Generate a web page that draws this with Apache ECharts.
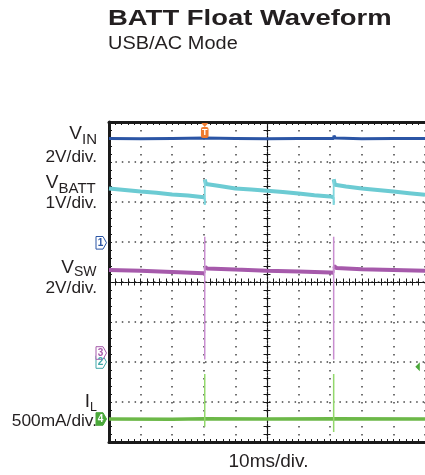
<!DOCTYPE html>
<html><head><meta charset="utf-8">
<script src="https://cdn.jsdelivr.net/npm/echarts@6/dist/echarts.min.js"></script>
<style>html,body{margin:0;padding:0;background:#fff}#c{width:425px;height:475px}</style>
</head><body><div id="c"></div>
<script>
// Time in ms relative to screen centre; values in screen divisions (0 = centre line)
const vinTime  = [-50, -40, -30, -19.7, -10, 0, 10, 21.1, 21.2, 21.6, 30, 40, 50];
const vinVals  = [3.59, 3.58, 3.59, 3.60, 3.59, 3.58, 3.59, 3.59, 3.66, 3.60, 3.58, 3.59, 3.59];

const vbattTime = [-50, -45, -40, -35, -30, -25, -20, -19.7, -19.7, -19.7, -19.3, -15, -10, -5, 0, 5, 10, 15, 20, 21.1, 21.1, 21.1, 21.5, 25, 30, 35, 40, 45, 50];
const vbattVals = [2.34, 2.30, 2.26, 2.23, 2.19, 2.16, 2.12, 2.11, 1.93, 2.56, 2.45, 2.40, 2.34, 2.31, 2.28, 2.25, 2.21, 2.17, 2.14, 2.12, 1.93, 2.57, 2.43, 2.39, 2.34, 2.30, 2.26, 2.22, 2.18];

const vswTime = [-50, -40, -30, -20, -19.7, -19.7, -19.5, -19, -10, 0, 10, 20, 21.1, 21.1, 21.4, 22, 30, 40, 50];
const vswVals = [0.30, 0.28, 0.25, 0.22, 0.22, 0.38, 0.37, 0.34, 0.31, 0.28, 0.26, 0.24, 0.23, 0.40, 0.37, 0.35, 0.32, 0.30, 0.28];

const ilTime = [-50, -30, -19.7, 0, 21.1, 50];
const ilVals = [-3.425, -3.43, -3.42, -3.425, -3.42, -3.425];

const spikeTime      = [-19.7, 21.1];
const vswSpikeTop    = [1.13, 1.13];
const vswSpikeBottom = [-1.94, -1.94];
const ilSpikeTop     = [-2.30, -2.30];
const ilSpikeBottom  = [-3.62, -3.75];

const markerLabels = ['1', '2', '3', '4'];
const markerLevels = [0.98, -2.0, -1.775, -3.425];
const triggerTime = -19.7;
const triggerLevel = -2.12;

const titleText = 'BATT Float Waveform';
const subtitleText = 'USB/AC Mode';
const timebaseText = '10ms/div.';

const C = { vin: '#2b55a5', vbatt: '#6ccbd3', vbattJump: '#7fd6dd', vsw: '#a65aab', vswJump: '#b878bd', il: '#6cb848',
            vswSpike: '#c98ed0', ilSpike: '#93d86c', ch2: '#3fa7a8', ch4: '#4aa83a', trig: '#ef7b2f', ink: '#231f20' };

const zip = (t, v) => t.map((x, i) => [x, v[i]]);
// split a trace into flat/decaying pieces and its vertical jumps (equal successive times)
function split(t, v) {
  const segs = [[]], jumps = [];
  t.forEach((x, i) => {
    if (i > 0 && x === t[i - 1]) { jumps.push([[t[i - 1], v[i - 1]], [x, v[i]]]); segs.push([]); }
    segs[segs.length - 1].push([x, v[i]]);
  });
  return { segs: segs.filter(s => s.length > 1), jumps };
}
const FONT = "'Liberation Sans', Arial, sans-serif";

const chart = echarts.init(document.getElementById('c'), null, { renderer: 'canvas' });

const frameLine = { color: '#1a1a1a', width: 3 };
const tickStyle = { color: '#1a1a1a', width: 1 };
function frameX(pos, split) {
  return { type: 'value', min: -50, max: 50, interval: 10, position: pos,
    axisLine: { show: true, onZero: false, lineStyle: frameLine },
    axisTick: { show: true, inside: true, length: 3, lineStyle: tickStyle },
    minorTick: { show: true, splitNumber: 5, length: 3, lineStyle: tickStyle },
    axisLabel: { show: false },
    splitLine: { show: split, lineStyle: { color: '#444', width: 1.5, type: [1.5, 6.5] } } };
}
function centreX(inside, line) {
  return { type: 'value', min: -50, max: 50, interval: 10, position: 'bottom',
    axisLine: { show: true, onZero: true, onZeroAxisIndex: 0,
      lineStyle: line ? { color: '#111', width: 1.2, type: [2.2, 1] } : { color: 'rgba(0,0,0,0)', width: 1 } },
    axisTick: { show: true, inside: inside, length: 3.5, lineStyle: tickStyle },
    minorTick: { show: true, splitNumber: 5, length: 3.5, lineStyle: tickStyle },
    axisLabel: { show: false }, splitLine: { show: false } };
}
function frameY(split) {
  return { type: 'value', min: -4, max: 4, interval: 1, position: 'left',
    axisLine: { show: true, onZero: false, lineStyle: frameLine },
    axisTick: { show: true, inside: true, length: 3, lineStyle: tickStyle },
    minorTick: { show: true, splitNumber: 5, length: 3, lineStyle: tickStyle },
    axisLabel: { show: false },
    splitLine: { show: split, lineStyle: { color: '#444', width: 1.5, type: [1.5, 4.9] } } };
}
function centreY(inside, line) {
  return { type: 'value', min: -4, max: 4, interval: 1, position: 'left',
    axisLine: { show: true, onZero: true, onZeroAxisIndex: 0,
      lineStyle: line ? { color: '#111', width: 1.2, type: [2.2, 1] } : { color: 'rgba(0,0,0,0)', width: 1 } },
    axisTick: { show: true, inside: inside, length: 3.5, lineStyle: tickStyle },
    minorTick: { show: true, splitNumber: 5, length: 3.5, lineStyle: tickStyle },
    axisLabel: { show: false }, splitLine: { show: false } };
}

function trace(name, data, color, width) {
  return { name, type: 'line', xAxisIndex: 0, yAxisIndex: 0, data, showSymbol: false, symbol: 'none',
    lineStyle: { color, width }, animation: false, z: 3 };
}
const series = [trace('VIN', zip(vinTime, vinVals), C.vin, 3)];
const vb = split(vbattTime, vbattVals);
vb.segs.forEach((s, i) => series.push(trace('VBATT ' + i, s, C.vbatt, 4)));
vb.jumps.forEach((s, i) => series.push(trace('VBATT jump ' + i, s, C.vbattJump, 1.8)));
const vs = split(vswTime, vswVals);
vs.segs.forEach((s, i) => series.push(trace('VSW ' + i, s, C.vsw, 4)));
vs.jumps.forEach((s, i) => series.push(trace('VSW jump ' + i, s, C.vswJump, 1.8)));
series.push(trace('IL', zip(ilTime, ilVals), C.il, 3.5));
spikeTime.forEach((t, i) => {
  series.push(trace('VSW spike ' + i, [[t, vswSpikeTop[i]], [t, vswSpikeBottom[i]]], C.vswSpike, 1.5));
  series.push(trace('IL spike ' + i, [[t, ilSpikeTop[i]], [t, ilSpikeBottom[i]]], C.ilSpike, 1.5));
});

chart.setOption({
  animation: false,
  backgroundColor: '#fff',
  grid: { left: 109, top: 122, width: 320, height: 320, containLabel: false },
  xAxis: [frameX('bottom', true), frameX('top', false), centreX(true, true), centreX(false, false)],
  yAxis: [frameY(true), centreY(true, true), centreY(false, false)],
  series
});

function text(t, x, y, size, align, opts) {
  return Object.assign({ type: 'text', x, y, z: 10, style: { text: t, x: 0, y: 0, fontSize: size, fontFamily: FONT,
    fill: C.ink, align, textAlign: align, verticalAlign: 'middle', textVerticalAlign: 'middle',
    fontWeight: (opts && opts.bold) ? 'bold' : 'normal' } }, opts && opts.el ? opts.el : {});
}

const px = (t, v) => chart.convertToPixel({ gridIndex: 0 }, [t, v]);
const graphics = [
  text(titleText, 108, 18.5, 22.5, 'left', { bold: true, el: { scaleX: 1.22 } }),
  text(subtitleText, 108, 44, 17.5, 'left', { el: { scaleX: 1.14 } }),
  text('V', 82, 133.5, 19, 'right'), text('IN', 82, 140, 15, 'left'),
  text('2V/div.', 97, 157.5, 17.3, 'right'),
  text('V', 58.5, 183, 19, 'right'), text('BATT', 58.5, 188.5, 15, 'left'),
  text('1V/div.', 97, 203.5, 17.3, 'right'),
  text('V', 74, 267.5, 19, 'right'), text('SW', 74, 272.5, 14, 'left'),
  text('2V/div.', 97, 288.3, 17.3, 'right'),
  text('I', 90, 401.5, 19, 'right'), text('L', 90, 407.7, 12.5, 'left'),
  text('500mA/div.', 97, 420.8, 17.3, 'right'),
  text(timebaseText, 268.5, 461.5, 19, 'center')
];

// channel ground markers at the left edge
const markerColors = [C.vin, C.ch2, C.vsw, C.ch4];
[1, 2, 0, 3].forEach(i => {
  const p = px(-50, markerLevels[i]);
  const y = p[1], xr = p[0] - 2.5, col = markerColors[i];
  const filled = i === 3;
  graphics.push({ type: 'polygon', z: 20, shape: { points: [[xr - 10.5, y - 6.3], [xr - 3.5, y - 6.3], [xr, y], [xr - 3.5, y + 6.3], [xr - 10.5, y + 6.3]] },
    style: { fill: filled ? col : '#fff', stroke: col, lineWidth: 1 } });
  graphics.push({ type: 'text', z: 21, x: xr - 6, y: y + 0.5, style: { text: markerLabels[i], fontSize: 10, fontFamily: FONT, fontWeight: 'bold',
    fill: filled ? '#fff' : col, align: 'center', textAlign: 'center', verticalAlign: 'middle', textVerticalAlign: 'middle' } });
});

// trigger position marker (top) and trigger level marker (right)
const tp = px(triggerTime, 4);
graphics.push({ type: 'polygon', z: 20, shape: { points: [[tp[0] - 3.5, tp[1] + 1], [tp[0] + 3.5, tp[1] + 1], [tp[0], tp[1] + 5]] }, style: { fill: C.trig } });
graphics.push({ type: 'rect', z: 20, shape: { x: tp[0] - 3.8, y: tp[1] + 5, width: 7.6, height: 11, r: 2 }, style: { fill: C.trig } });
graphics.push({ type: 'text', z: 21, x: tp[0], y: tp[1] + 10.5, style: { text: 'T', fontSize: 9, fontFamily: FONT, fontWeight: 'bold', fill: '#fff',
  align: 'center', textAlign: 'center', verticalAlign: 'middle', textVerticalAlign: 'middle' } });
const lp = px(49, triggerLevel);
graphics.push({ type: 'polygon', z: 20, shape: { points: [[lp[0] - 6.5, lp[1]], [lp[0] - 2, lp[1] - 4.5], [lp[0] - 2, lp[1] + 4.5]] }, style: { fill: C.ch4 } });

chart.setOption({ graphic: { elements: graphics } });
</script></body></html>
